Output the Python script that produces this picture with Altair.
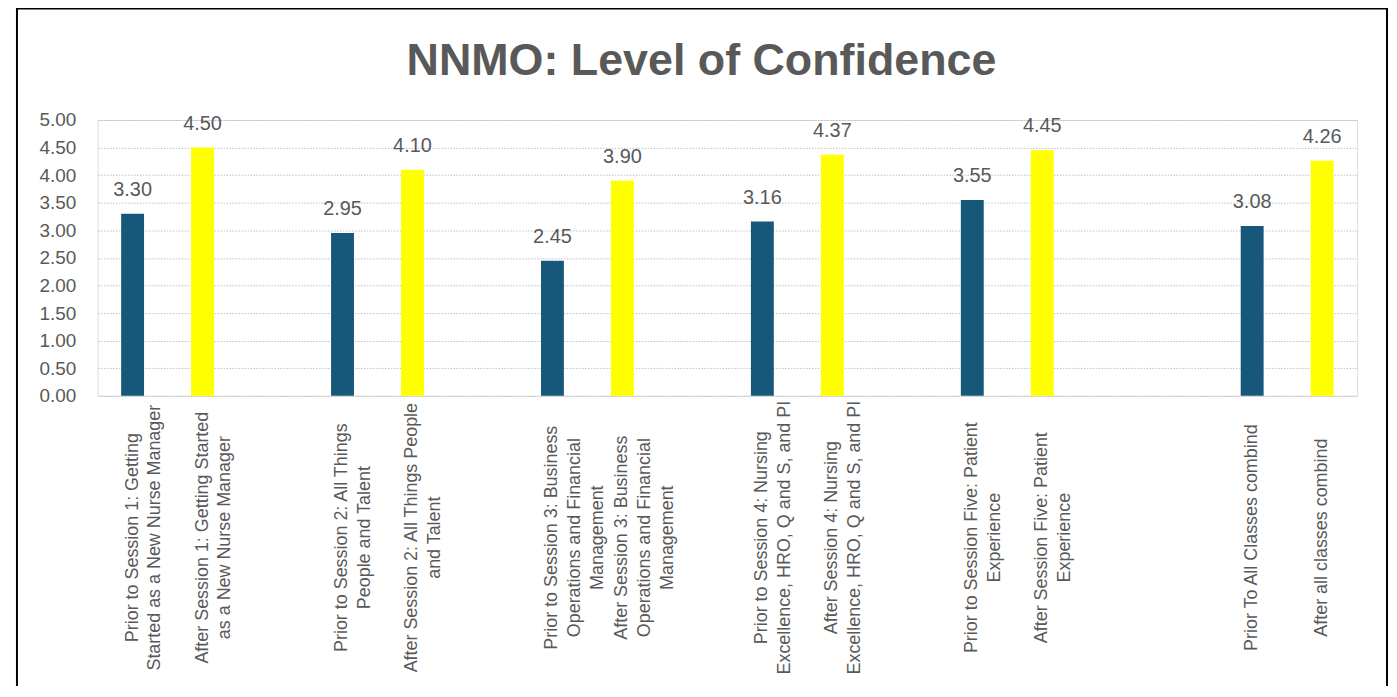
import altair as alt
import pandas as pd

# Category labels (lines separated by "\n"); blank slots are whitespace keys
categories = [
    "Prior to Session 1: Getting\nStarted as a New Nurse Manager",
    "After Session 1: Getting Started\nas a New Nurse Manager",
    "Prior to Session 2: All Things\nPeople and Talent",
    "After Session 2: All Things People\nand Talent",
    "Prior to Session 3: Business\nOperations and Financial\nManagement",
    "After Session 3: Business\nOperations and Financial\nManagement",
    "Prior to Session 4: Nursing\nExcellence, HRO, Q and S, and PI",
    "After Session 4: Nursing\nExcellence, HRO, Q and S, and PI",
    "Prior to Session Five: Patient\nExperience",
    "After Session Five: Patient\nExperience",
    "Prior To All Classes combind",
    "After all classes combind",
]
values = [3.30, 4.50, 2.95, 4.10, 2.45, 3.90, 3.16, 4.37, 3.55, 4.45, 3.08, 4.26]
phase = ["Prior", "After"] * 6
y_ticks = [0, 0.5, 1, 1.5, 2, 2.5, 3, 3.5, 4, 4.5, 5]

# x-axis slot order, with empty slots between the pairs
slot_order = [
    categories[0], categories[1], " ",
    categories[2], categories[3], "  ",
    categories[4], categories[5], "   ",
    categories[6], categories[7], "    ",
    categories[8], categories[9], "     ", "      ",
    categories[10], categories[11],
]

df = pd.DataFrame({"category": categories, "value": values, "phase": phase})

GRAY = "#595959"
FONT = "Liberation Sans"

x_enc = alt.X(
    "category:N",
    sort=slot_order,
    scale=alt.Scale(domain=slot_order),
    title=None,
    axis=alt.Axis(
        labelAngle=-90,
        labelAlign="center",
        labelBaseline="middle",
        labelPadding=142,
        labelLineHeight=23,
        labelFontSize=18,
        labelFont=FONT,
        labelColor=GRAY,
        labelOverlap=False,
        labelLimit=0,
        labelExpr="split(datum.label, '\\n')",
        ticks=False,
        tickSize=0,
        domain=False,
        grid=False,
    ),
)

y_enc = alt.Y(
    "value:Q",
    scale=alt.Scale(domain=[0, 5], nice=False),
    title=None,
    axis=alt.Axis(
        values=y_ticks,
        tickCount=len(y_ticks),
        format=".2f",
        labelFontSize=19,
        labelFont=FONT,
        labelColor=GRAY,
        labelPadding=22,
        labelOverlap=False,
        labelFlush=False,
        ticks=False,
        domain=False,
        grid=True,
        gridColor="#bfbfbf",
        gridDash=[1.5, 1.5],
        gridWidth=1,
    ),
)

base = alt.Chart(df)

bars = base.mark_bar(size=23).encode(
    x=x_enc,
    y=y_enc,
    color=alt.Color(
        "phase:N",
        scale=alt.Scale(domain=["Prior", "After"], range=["#17587A", "#FFFF00"]),
        legend=None,
    ),
)

labels = base.mark_text(
    baseline="alphabetic", dy=-18, fontSize=20, font=FONT, color=GRAY
).encode(
    x=x_enc,
    y=y_enc,
    text=alt.Text("value:Q", format=".2f"),
)

frame = alt.Chart(alt.Data(values=[{}])).mark_rect(
    fill=None, stroke="#000000", strokeWidth=2
).encode(
    x=alt.value(-81), x2=alt.value(1295), y=alt.value(-112), y2=alt.value(700)
)

chart = (
    alt.layer(bars, labels, frame)
    .properties(
        width=1265,
        height=277,
        autosize=alt.AutoSizeParams(type="none"),
        padding={"left": 90, "top": 111, "right": 32, "bottom": 290},
        title=alt.TitleParams(
            "NNMO: Level of Confidence",
            fontSize=45,
            font=FONT,
            fontWeight="bold",
            color=GRAY,
            anchor="middle",
            frame="group",
            baseline="alphabetic",
            dx=-26,
            dy=113,
            offset=0,
        ),
    )
    .configure_view(stroke=None)
    .configure(background="white")
)

chart.save("out.html", embed_options={"renderer": "svg", "actions": False})
